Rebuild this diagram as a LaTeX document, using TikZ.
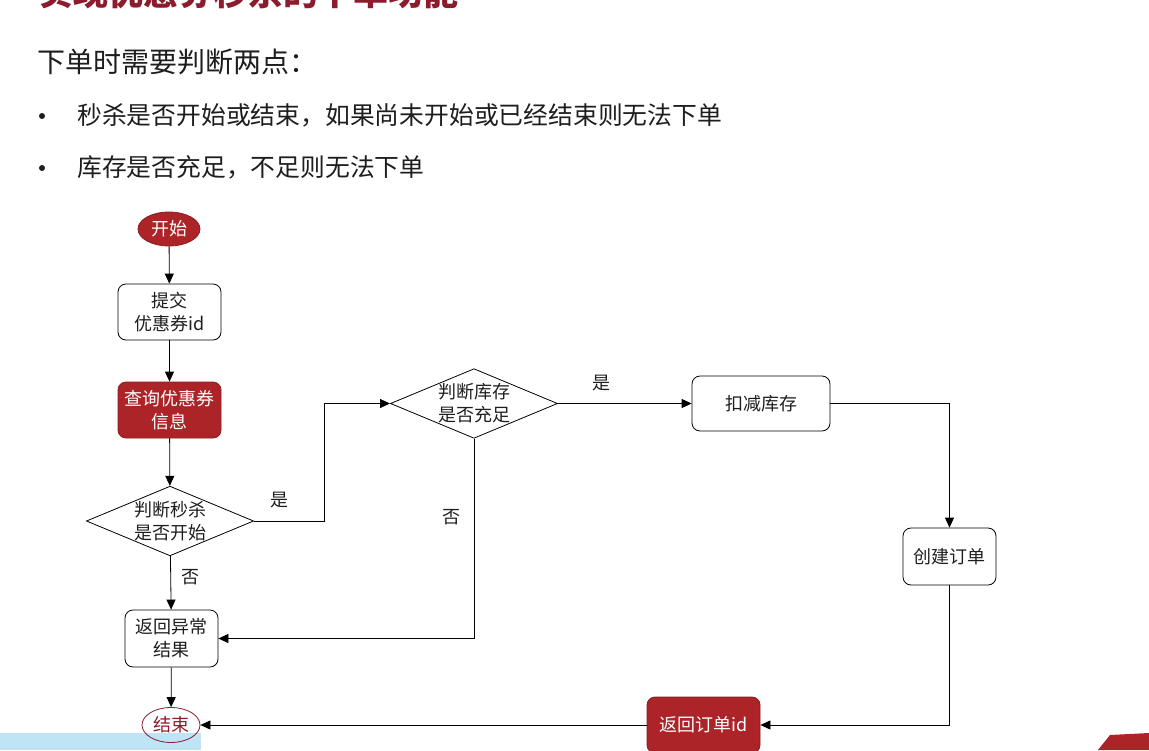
\documentclass[tikz,border=0pt]{standalone}
\usepackage{fontspec}
\setmainfont{Noto Sans CJK SC}
\usetikzlibrary{shapes.geometric,arrows.meta}
\definecolor{boxred}{RGB}{172,36,40}
\definecolor{titlered}{RGB}{140,28,45}
\definecolor{txt}{RGB}{30,30,30}
\definecolor{bandblue}{RGB}{190,228,245}
\newcommand\diagfont{\fontsize{18}{23}\selectfont}
\begin{document}
\begin{tikzpicture}[x=1pt,y=1pt,
  box/.style={draw=black, rounded corners=8pt, fill=white, line width=0.8pt,
    minimum width=103pt, minimum height=56pt, align=center, font=\diagfont,
    inner sep=2pt, text=txt},
  redbox/.style={box, fill=boxred, text=white, draw=boxred!80!black},
  term/.style={ellipse, draw=boxred!80!black, line width=0.8pt, inner sep=0pt,
    minimum width=62pt, minimum height=34pt, font=\diagfont},
  dec/.style={diamond, draw=black, line width=0.8pt, aspect=2.4, inner sep=0pt,
    minimum width=164pt, minimum height=68pt, align=center, font=\diagfont, text=txt},
  arr/.style={-{Triangle[length=10pt,width=9pt]}, line width=0.8pt},
  lbl/.style={font=\diagfont, text=txt},
  bullet/.style={circle, fill=txt, inner sep=0pt, minimum size=6pt}]
\useasboundingbox (0,0) rectangle (1149,-750);
\clip (0,0) rectangle (1149,-750);
\fill[white] (0,0) rectangle (1149,-750);
\fill[bandblue] (0,-733) rectangle (201,-750);

% title and texts
\node[anchor=base west, font=\fontsize{35}{35}\selectfont\bfseries, text=titlered, inner sep=0pt] (title) at (38,-5) {实现优惠券秒杀的下单功能};
\node[anchor=west, font=\fontsize{28}{28}\selectfont, text=txt, inner sep=0pt] (head) at (37,-62) {下单时需要判断两点：};
\node[bullet] (b1) at (42,-116) {};
\node[bullet] (b2) at (42,-168) {};
\node[anchor=west, font=\fontsize{24.8}{24.8}\selectfont, text=txt, inner sep=0pt] (t1) at (77,-115) {秒杀是否开始或结束，如果尚未开始或已经结束则无法下单};
\node[anchor=west, font=\fontsize{24.8}{24.8}\selectfont, text=txt, inner sep=0pt] (t2) at (77,-167) {库存是否充足，不足则无法下单};

% nodes
\node[term, fill=boxred, text=white] (start) at (169,-229) {开始};
\node[box] (submit) at (169.5,-312) {提交\\优惠券id};
\node[redbox] (query) at (169.5,-410) {查询优惠券\\信息};
\node[dec] (d1) at (170,-521) {判断秒杀\\是否开始};
\node[dec] (d2) at (474,-403.5) {判断库存\\是否充足};
\node[box, minimum width=138pt, minimum height=55pt] (deduct) at (761,-403.5) {扣减库存};
\node[box, minimum width=93pt, minimum height=57pt] (create) at (949.5,-556.5) {创建订单};
\node[redbox, minimum width=113pt, minimum height=56pt] (retid) at (703.5,-725) {返回订单id};
\node[box, minimum width=93pt, minimum height=57pt] (err) at (171.5,-638.5) {返回异常\\结果};
\node[term, draw=titlered, text=titlered, minimum width=58pt, minimum height=35pt] (end) at (171,-725) {结束};

% connectors
\draw[arr] (start) -- (submit);
\draw[arr] (submit) -- (query);
\draw[arr] (query) -- (d1);
\draw[arr] (d1) -- (err);
\draw[arr] (err) -- (end);
\draw[arr] (d1.east) -- ++(70,0) |- (d2.west);
\draw[arr] (d2.east) -- (deduct.west);
\draw[arr] (deduct.east) -| (create.north);
\draw[arr] (create.south) |- (retid.east);
\draw[arr] (retid.west) -- (end.east);
\draw[arr] (d2.south) |- (err.east);

% labels
\node[lbl] (yes1) at (279,-500) {是};
\node[lbl] (no1) at (190,-577) {否};
\node[lbl] (yes2) at (601,-383) {是};
\node[lbl] (no2) at (451,-517) {否};

% corner decoration
\fill[boxred] (1098,-750) -- (1110,-735) -- (1149,-733) -- (1149,-750) -- cycle;
\end{tikzpicture}
\end{document}
